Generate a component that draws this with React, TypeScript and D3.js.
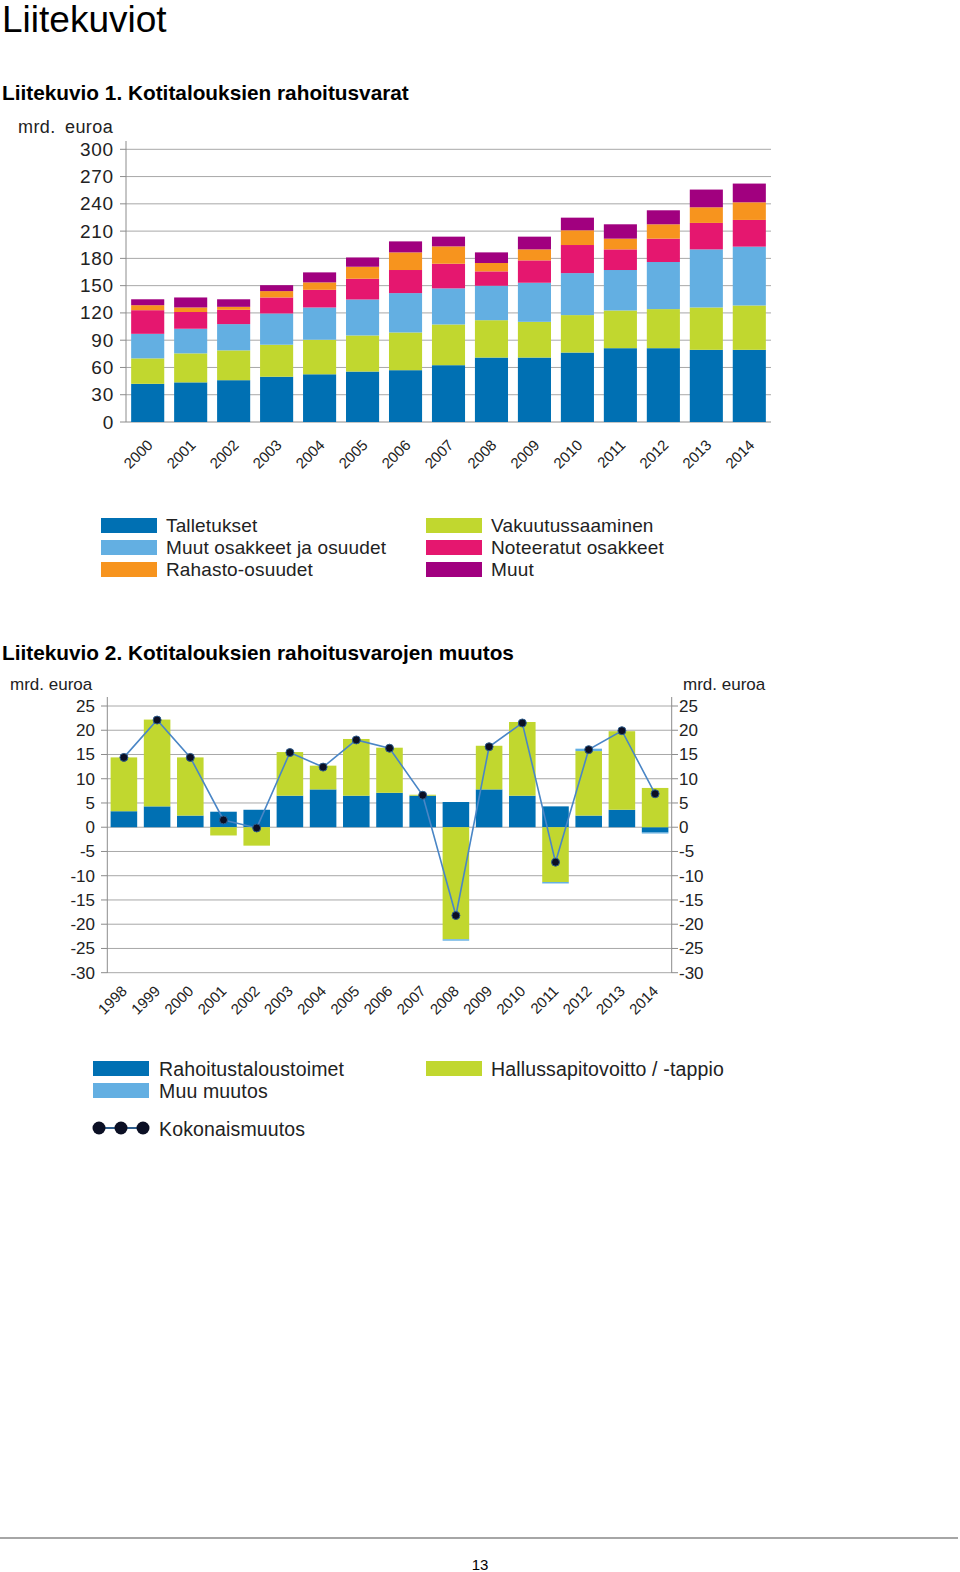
import React from "react";
import * as d3 from "d3";

const years1 = ["2000","2001","2002","2003","2004","2005","2006","2007","2008","2009","2010","2011","2012","2013","2014"];
const talletukset = [42, 43.6, 46, 49.8, 52.5, 55.5, 57, 62.5, 70.9, 70.9, 76.4, 81.2, 81.2, 79.4, 79.4];
const vakuutussaaminen = [28, 31.9, 32.8, 35.2, 38, 39.7, 41.5, 44.8, 41.1, 39.3, 41.2, 41.5, 43, 46.6, 48.8];
const muutOsakkeet = [27, 27.1, 28.9, 34.4, 35.5, 39.6, 43.3, 39.7, 37.9, 43, 46.2, 44.5, 51.8, 63.9, 64.7];
const noteeratut = [26, 18.4, 15.7, 17.6, 19.4, 22.8, 25.4, 27.1, 15.8, 24.6, 30.9, 22.7, 25.7, 29.1, 29.4];
const rahasto = [5.5, 5, 3.3, 7, 8.2, 13.2, 19.4, 19.1, 9.2, 12.1, 16.2, 11.8, 15.8, 17.2, 19.4];
const muut = [6.5, 11, 8.3, 6.5, 11, 10.2, 12.1, 10.7, 11.7, 14, 13.9, 15.8, 15.4, 19.5, 20.6];
const ticks1 = [0, 30, 60, 90, 120, 150, 180, 210, 240, 270, 300];

const years2 = ["1998","1999","2000","2001","2002","2003","2004","2005","2006","2007","2008","2009","2010","2011","2012","2013","2014"];
const rahoitustaloustoimet = [3.3, 4.3, 2.4, 3.2, 3.6, 6.5, 7.8, 6.5, 7.1, 6.5, 5.2, 7.8, 6.5, 4.3, 2.4, 3.6, -1.1];
const hallussapito = [11.1, 17.9, 12.0, -1.7, -3.8, 9.0, 4.9, 11.7, 9.3, 0.2, -23.1, 9.0, 15.2, -11.3, 13.3, 16.2, 8.1];
const muuMuutos = [0, 0, 0, 0, 0, 0, 0, 0, 0, 0, -0.3, 0, 0, -0.3, 0.5, 0, -0.2];
const kokonaismuutos = [14.4, 22.1, 14.4, 1.5, -0.15, 15.4, 12.4, 18.0, 16.3, 6.6, -18.2, 16.6, 21.5, -7.2, 16.0, 19.9, 6.9];
const ticks2 = [25, 20, 15, 10, 5, 0, -5, -10, -15, -20, -25, -30];

const C_DBLUE = "#0070b3";
const C_LBLUE = "#63afe2";
const C_GREEN = "#c1d72f";
const C_MAG = "#e5176f";
const C_ORANGE = "#f7941e";
const C_PURPLE = "#a1007f";

const FONT = "'Liberation Sans', Arial, sans-serif";
const GRID = "#a8a8a8";
const AXIS = "#8c8c8c";

const series1 = [
  { key: "Talletukset", values: talletukset, color: C_DBLUE },
  { key: "Vakuutussaaminen", values: vakuutussaaminen, color: C_GREEN },
  { key: "Muut osakkeet ja osuudet", values: muutOsakkeet, color: C_LBLUE },
  { key: "Noteeratut osakkeet", values: noteeratut, color: C_MAG },
  { key: "Rahasto-osuudet", values: rahasto, color: C_ORANGE },
  { key: "Muut", values: muut, color: C_PURPLE },
];

const series2 = [
  { key: "Rahoitustaloustoimet", values: rahoitustaloustoimet, color: C_DBLUE },
  { key: "Hallussapitovoitto / -tappio", values: hallussapito, color: C_GREEN },
  { key: "Muu muutos", values: muuMuutos, color: C_LBLUE },
];

function Chart1() {
  const x = d3.scaleBand<string>().domain(years1).range([126, 771]).paddingInner(0.23).paddingOuter(0.12);
  const y = d3.scaleLinear().domain([0, 300]).range([422, 149.3]);
  const rows = years1.map((yr, i) => {
    const r: any = { year: yr };
    series1.forEach((s) => (r[s.key] = s.values[i]));
    return r;
  });
  const stack = d3.stack<any>().keys(series1.map((s) => s.key))(rows);
  return (
    <g>
      <text x={18} y={133} fontSize={18} wordSpacing={4} letterSpacing={0.4} fill="#222" fontFamily={FONT}>mrd. euroa</text>
      {ticks1.map((t) => (
        <g key={t}>
          <line x1={126} x2={771} y1={y(t)} y2={y(t)} stroke={t === 0 ? AXIS : GRID} strokeWidth={1} />
          <line x1={120} x2={126} y1={y(t)} y2={y(t)} stroke={AXIS} />
          <text x={114} y={y(t) + 6.5} fontSize={19} letterSpacing={0.8} textAnchor="end" fill="#222" fontFamily={FONT}>{t}</text>
        </g>
      ))}
      <line x1={126} x2={126} y1={141} y2={422} stroke={AXIS} />
      {stack.map((layer, li) => (
        <g key={layer.key} fill={series1[li].color}>
          {layer.map((d, i) => (
            <rect key={i} x={x(years1[i])} width={x.bandwidth()} y={y(d[1])} height={y(d[0]) - y(d[1])} />
          ))}
        </g>
      ))}
      {years1.map((yr) => {
        const cx = (x(yr) as number) + x.bandwidth() / 2 + 6;
        return (
          <text key={yr} transform={`translate(${cx},${446}) rotate(-45)`} textAnchor="end" fontSize={15} fill="#222" fontFamily={FONT}>{yr}</text>
        );
      })}
    </g>
  );
}

function Legend1() {
  const items = [
    { label: "Talletukset", color: C_DBLUE, col: 0, row: 0 },
    { label: "Muut osakkeet ja osuudet", color: C_LBLUE, col: 0, row: 1 },
    { label: "Rahasto-osuudet", color: C_ORANGE, col: 0, row: 2 },
    { label: "Vakuutussaaminen", color: C_GREEN, col: 1, row: 0 },
    { label: "Noteeratut osakkeet", color: C_MAG, col: 1, row: 1 },
    { label: "Muut", color: C_PURPLE, col: 1, row: 2 },
  ];
  return (
    <g>
      {items.map((it) => {
        const x0 = it.col === 0 ? 101 : 426;
        const yc = 525 + it.row * 22;
        return (
          <g key={it.label}>
            <rect x={x0} y={yc - 7} width={56} height={15} fill={it.color} />
            <text x={x0 + 65} y={yc + 7} fontSize={19} letterSpacing={0.15} fill="#222" fontFamily={FONT}>{it.label}</text>
          </g>
        );
      })}
    </g>
  );
}

function Chart2() {
  const x = d3.scaleBand<string>().domain(years2).range([107.3, 671.7]).paddingInner(0.2).paddingOuter(0.1);
  const y = d3.scaleLinear().domain([-30, 25]).range([972.7, 706]);
  const rows = years2.map((yr, i) => {
    const r: any = { year: yr };
    series2.forEach((s) => (r[s.key] = s.values[i]));
    return r;
  });
  const stack = d3.stack<any>().keys(series2.map((s) => s.key)).offset(d3.stackOffsetDiverging)(rows);
  const cxs = years2.map((yr) => (x(yr) as number) + x.bandwidth() / 2);
  const line = d3.line<number>().x((_, i) => cxs[i]).y((v) => y(v));
  return (
    <g>
      <text x={10} y={690} fontSize={17} fill="#222" fontFamily={FONT}>mrd. euroa</text>
      <text x={683} y={690} fontSize={17} fill="#222" fontFamily={FONT}>mrd. euroa</text>
      {ticks2.map((t) => (
        <g key={t}>
          <line x1={107.3} x2={671.7} y1={y(t)} y2={y(t)} stroke={GRID} />
          <line x1={101} x2={107.3} y1={y(t)} y2={y(t)} stroke={AXIS} />
          <line x1={671.7} x2={678} y1={y(t)} y2={y(t)} stroke={AXIS} />
          <text x={95} y={y(t) + 6} fontSize={17} textAnchor="end" fill="#222" fontFamily={FONT}>{t}</text>
          <text x={679} y={y(t) + 6} fontSize={17} textAnchor="start" fill="#222" fontFamily={FONT}>{t}</text>
        </g>
      ))}
      <line x1={107.3} x2={107.3} y1={697} y2={973} stroke={AXIS} />
      <line x1={671.7} x2={671.7} y1={697} y2={973} stroke={AXIS} />
      {stack.map((layer, li) => (
        <g key={layer.key} fill={series2[li].color}>
          {layer.map((d, i) => {
            const top = Math.max(d[0], d[1]);
            const bot = Math.min(d[0], d[1]);
            return <rect key={i} x={x(years2[i])} width={x.bandwidth()} y={y(top)} height={y(bot) - y(top)} />;
          })}
        </g>
      ))}
      <path d={line(kokonaismuutos) || ""} fill="none" stroke="#4a86c6" strokeWidth={1.6} />
      {kokonaismuutos.map((v, i) => (
        <circle key={i} cx={cxs[i]} cy={y(v)} r={4} fill="#0b0f24" stroke="#2f5d8c" strokeWidth={1} />
      ))}
      {years2.map((yr, i) => (
        <text key={yr} transform={`translate(${cxs[i] + 4},${992}) rotate(-45)`} textAnchor="end" fontSize={15} fill="#222" fontFamily={FONT}>{yr}</text>
      ))}
    </g>
  );
}

function Legend2() {
  return (
    <g fontFamily={FONT} fontSize={19.5} letterSpacing={0.15} fill="#222">
      <rect x={93} y={1061} width={56} height={15} fill={C_DBLUE} />
      <text x={159} y={1076}>Rahoitustaloustoimet</text>
      <rect x={93} y={1083} width={56} height={15} fill={C_LBLUE} />
      <text x={159} y={1098}>Muu muutos</text>
      <rect x={426} y={1061} width={56} height={15} fill={C_GREEN} />
      <text x={491} y={1076}>Hallussapitovoitto / -tappio</text>
      <line x1={97} x2={145} y1={1128} y2={1128} stroke="#2f5d8c" strokeWidth={2} />
      {[99, 121, 143].map((cx) => (
        <circle key={cx} cx={cx} cy={1128} r={6.5} fill="#0b0f24" />
      ))}
      <text x={159} y={1136}>Kokonaismuutos</text>
    </g>
  );
}

export default function App() {
  return (
    <svg width={960} height={1572} style={{ position: "absolute", left: 0, top: 0, background: "#fff" }} xmlns="http://www.w3.org/2000/svg">
      <rect width={960} height={1572} fill="#fff" />
      <text x={2} y={32} fontSize={37} fill="#000" fontFamily={FONT}>Liitekuviot</text>
      <text x={2} y={100} fontSize={20.8} fontWeight="bold" fill="#000" fontFamily={FONT}>Liitekuvio 1. Kotitalouksien rahoitusvarat</text>
      <Chart1 />
      <Legend1 />
      <text x={2} y={660} fontSize={20.8} fontWeight="bold" fill="#000" fontFamily={FONT}>Liitekuvio 2. Kotitalouksien rahoitusvarojen muutos</text>
      <Chart2 />
      <Legend2 />
      <line x1={0} x2={958} y1={1538} y2={1538} stroke="#888" strokeWidth={1.5} />
      <text x={480} y={1570} fontSize={15} textAnchor="middle" fill="#000" fontFamily={FONT}>13</text>
    </svg>
  );
}
